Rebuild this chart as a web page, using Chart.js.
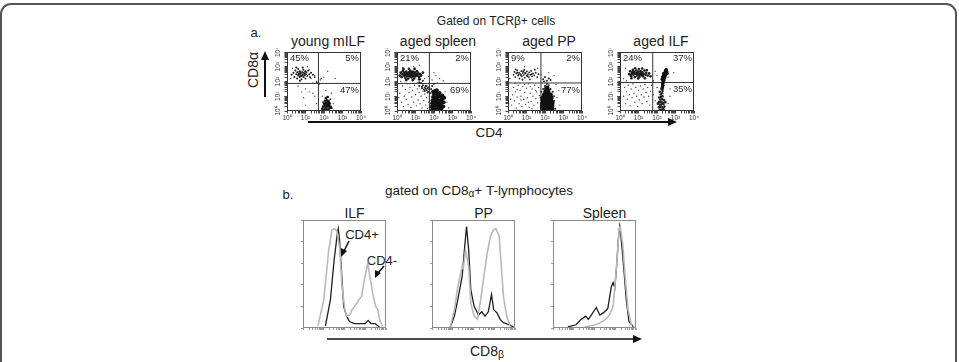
<!DOCTYPE html>
<html><head><meta charset="utf-8">
<script src="https://cdn.jsdelivr.net/npm/chart.js@4/dist/chart.umd.min.js"></script>
<style>
body{margin:0;background:#fff;}
#wrap{position:relative;width:959px;height:362px;overflow:hidden;font-family:"Liberation Sans",Arial,sans-serif;color:#222;}
.t{position:absolute;white-space:nowrap;transform:translate(-50%,-50%);line-height:1;}
canvas{position:absolute;}
svg{position:absolute;left:0;top:0;}
sub{font-size:75%;vertical-align:-0.2em;}
</style></head><body>
<div id="wrap">
<svg width="959" height="362">
  <rect x="1" y="4" width="955" height="420" rx="10" ry="10" fill="none" stroke="#555" stroke-width="2"/>
  <line x1="265" y1="97" x2="265" y2="58" stroke="#111" stroke-width="2"/>
  <polygon points="265,51 261,60 269,60" fill="#111"/>
  <line x1="308" y1="122" x2="669" y2="122" stroke="#111" stroke-width="2"/>
  <polygon points="677,122 668,118 668,126" fill="#111"/>
  <line x1="327" y1="339" x2="634" y2="339" stroke="#111" stroke-width="1.5"/>
  <polygon points="642,339 633,335 633,343" fill="#111"/>
  <line x1="349" y1="241" x2="344" y2="251" stroke="#111" stroke-width="1.5"/>
  <polygon points="341,257 341,248 347,251" fill="#111"/>
  <line x1="384" y1="266" x2="378" y2="273" stroke="#111" stroke-width="1.5"/>
  <polygon points="375,278 375,270 381,273" fill="#111"/>
</svg>
<div class="t" style="left:496px;top:21px;font-size:12px">Gated on TCRβ+ cells</div>
<div class="t" style="left:256px;top:32px;font-size:13px">a.</div>
<div class="t" style="left:253px;top:70px;font-size:14px;transform:translate(-50%,-50%) rotate(-90deg)">CD8α</div>
<div class="t" id="pa0" style="top:41px;font-size:14px"></div>
<div class="t" id="pa1" style="top:41px;font-size:14px"></div>
<div class="t" id="pa2" style="top:41px;font-size:14px"></div>
<div class="t" id="pa3" style="top:41px;font-size:14px"></div>
<div class="t" style="left:489px;top:133px;font-size:13.5px">CD4</div>
<div class="t" style="left:288px;top:194px;font-size:13px">b.</div>
<div class="t" style="left:479px;top:192px;font-size:13.5px">gated on CD8<sub>α</sub>+ T-lymphocytes</div>
<div class="t" id="pb0" style="top:213px;font-size:14px"></div>
<div class="t" id="pb1" style="top:213px;font-size:14px"></div>
<div class="t" id="pb2" style="top:213px;font-size:14px"></div>
<div class="t" style="left:362px;top:234px;font-size:13px">CD4+</div>
<div class="t" style="left:382px;top:260px;font-size:13px">CD4-</div>
<div class="t" style="left:487px;top:352px;font-size:14px">CD8<sub>β</sub></div>
</div>
<script>
// ---------------- DATA ----------------
const scatterTitles = ['young mILF', 'aged spleen', 'aged PP', 'aged ILF'];
const decadeTicks = [0, 1, 2, 3, 4];
const decadeLabels = ['10\u2070', '10\u00b9', '10\u00b2', '10\u00b3', '10\u2074'];
const pctUpperLeft = ['45%', '21%', '9%', '24%'];
const pctUpperRight = ['5%', '2%', '2%', '37%'];
const pctLowerRight = ['47%', '69%', '77%', '35%'];
const gateX = [1.7, 1.75, 1.78, 1.77];
const gateY = [1.87, 1.87, 1.9, 1.93];

// young mILF
const p1Cluster = [[0.25,2.45],[0.35,2.6],[0.4,2.3],[0.45,2.75],[0.5,2.5],[0.55,2.2],[0.55,2.62],[0.6,2.4],[0.6,2.85],[0.65,2.55],[0.68,2.3],[0.7,2.7],[0.72,2.45],[0.75,2.58],[0.78,2.15],[0.8,2.38],[0.82,2.65],[0.85,2.5],[0.88,2.8],[0.9,2.3],[0.92,2.58],[0.95,2.42],[0.98,2.7],[1.0,2.2],[1.02,2.5],[1.05,2.62],[1.1,2.38],[1.15,2.75],[1.2,2.5],[1.25,2.28],[1.3,2.6],[1.4,2.45],[0.5,2.95],[0.7,2.05],[0.85,2.95],[0.62,2.48],[0.74,2.36],[0.84,2.44],[0.66,2.66],[0.96,2.52]];
const p1Blob = [[2.0,0.1],[2.1,0.15],[2.2,0.1],[2.3,0.18],[1.95,0.3],[2.05,0.35],[2.15,0.28],[2.25,0.32],[2.35,0.3],[2.0,0.5],[2.1,0.55],[2.2,0.48],[2.3,0.52],[2.05,0.7],[2.15,0.72],[2.25,0.68],[2.1,0.88],[2.2,0.95],[2.18,0.4],[2.12,0.42],[2.28,0.42],[2.08,0.22],[2.22,0.6],[2.4,0.2],[1.9,0.15]];
const p1Mid = [[1.6,1.95],[1.75,1.85],[1.85,2.2],[1.5,2.3],[1.95,0.6],[2.35,0.8]];
const p1Sparse = [[1.3,2.2],[1.5,2.4],[1.2,2.8],[1.6,2.0],[1.8,2.1],[2.0,2.3],[1.4,1.9],[1.0,1.5],[1.2,1.3],[1.4,1.2],[0.9,0.9],[1.6,0.5],[1.9,1.0],[2.4,1.2],[2.5,0.5],[0.3,2.9],[0.2,2.2],[1.1,3.0],[2.2,2.7],[1.7,1.6],[1.5,1.0],[0.8,1.3],[1.0,0.4],[0.6,1.7],[2.6,2.2],[2.1,1.4]];
// aged spleen
const p2Cluster = [[0.15,2.4],[0.2,2.6],[0.25,2.3],[0.3,2.5],[0.32,2.7],[0.38,2.4],[0.4,2.58],[0.45,2.25],[0.48,2.48],[0.5,2.66],[0.55,2.38],[0.58,2.55],[0.6,2.2],[0.62,2.45],[0.65,2.62],[0.68,2.35],[0.7,2.52],[0.72,2.72],[0.75,2.42],[0.78,2.28],[0.8,2.58],[0.82,2.46],[0.85,2.66],[0.88,2.36],[0.9,2.52],[0.92,2.2],[0.95,2.45],[0.98,2.62],[1.0,2.35],[1.05,2.5],[1.08,2.7],[1.1,2.4],[1.15,2.55],[1.2,2.3],[1.25,2.5],[1.3,2.4],[1.4,2.6],[0.35,2.85],[0.65,2.85],[0.95,2.85],[0.5,2.1],[0.85,2.1],[1.2,2.15],[0.55,2.5],[0.75,2.6],[0.42,2.42]];
const p2Blob = [[1.9,0.1],[2.0,0.08],[2.1,0.12],[2.2,0.1],[2.3,0.1],[2.4,0.15],[1.88,0.3],[1.98,0.32],[2.08,0.28],[2.18,0.3],[2.28,0.32],[2.38,0.35],[2.5,0.3],[1.9,0.52],[2.0,0.5],[2.1,0.55],[2.2,0.5],[2.3,0.52],[2.4,0.55],[2.52,0.6],[1.92,0.72],[2.02,0.75],[2.12,0.7],[2.22,0.74],[2.32,0.72],[2.42,0.8],[1.95,0.95],[2.05,0.92],[2.15,0.95],[2.25,0.98],[2.35,1.0],[2.0,1.15],[2.1,1.18],[2.2,1.15],[2.3,1.22],[2.05,1.35],[2.15,1.4],[1.95,1.3],[2.45,1.05],[2.55,0.9]];
const p2Mid = [[1.3,1.9],[1.4,1.75],[1.5,1.6],[1.55,1.5],[1.45,1.45],[1.6,1.4],[1.35,1.55],[1.65,1.55],[1.7,1.3],[1.75,1.45],[1.2,1.7],[1.5,1.35],[1.8,1.2],[1.6,1.7],[1.4,2.05],[1.25,2.15],[1.2,1.95],[1.35,1.65],[1.55,1.7],[1.7,1.6],[1.85,1.5],[1.65,1.25],[1.9,1.7],[2.0,1.85]];
const p2Sparse = [[0.15,1.2],[0.25,0.6],[0.3,1.7],[0.35,0.3],[0.4,1.0],[0.45,1.45],[0.5,0.8],[0.55,1.85],[0.6,0.45],[0.65,1.25],[0.7,1.6],[0.75,0.25],[0.8,0.95],[0.85,1.4],[0.9,0.6],[0.95,1.75],[1.0,1.1],[1.05,0.35],[1.1,1.5],[1.15,0.75],[1.2,1.25],[1.25,0.5],[1.3,1.0],[1.35,0.2],[1.4,1.35],[1.45,0.7],[1.5,1.15],[1.55,0.4],[1.6,0.9],[1.65,0.15],[1.7,0.6],[1.75,1.0],[0.2,2.0],[0.3,2.95],[0.9,3.0],[1.4,2.6],[1.5,2.2],[1.7,2.35],[1.9,2.1],[2.1,2.4],[2.3,2.2],[2.5,2.05],[2.0,2.6],[2.6,1.3],[2.7,0.6],[2.8,0.2],[1.2,3.1],[2.2,1.9],[0.1,0.9],[1.1,1.9]];
// aged PP
const p3Cluster = [[0.3,2.45],[0.35,2.65],[0.4,2.3],[0.45,2.55],[0.5,2.75],[0.55,2.4],[0.6,2.6],[0.62,2.2],[0.68,2.5],[0.72,2.7],[0.75,2.35],[0.8,2.58],[0.85,2.45],[0.88,2.78],[0.9,2.25],[0.95,2.55],[1.0,2.4],[1.02,2.68],[1.08,2.5],[1.12,2.3],[1.15,2.62],[1.2,2.45],[1.25,2.72],[1.3,2.35],[1.35,2.55],[1.42,2.42],[1.5,2.6],[1.58,2.3],[1.65,2.5],[0.42,2.82],[0.78,2.12],[1.18,2.15],[1.45,2.8],[0.58,2.48],[0.92,2.6],[1.05,2.36],[0.7,2.42],[0.82,2.7],[1.28,2.5],[0.5,2.6]];
const p3Blob = [[1.88,0.08],[1.98,0.1],[2.08,0.08],[2.18,0.1],[2.28,0.1],[2.36,0.15],[1.86,0.3],[1.96,0.28],[2.06,0.3],[2.16,0.28],[2.26,0.3],[2.36,0.35],[1.88,0.5],[1.98,0.52],[2.08,0.5],[2.18,0.52],[2.28,0.5],[2.38,0.55],[1.9,0.72],[2.0,0.7],[2.1,0.72],[2.2,0.7],[2.3,0.74],[1.92,0.92],[2.02,0.95],[2.12,0.92],[2.22,0.95],[2.32,0.9],[1.98,1.12],[2.08,1.15],[2.18,1.12],[2.28,1.1],[2.05,1.32],[2.15,1.35],[2.1,1.55]];
const p3Mid = [[1.78,0.4],[1.76,0.9],[1.8,1.3],[2.45,0.3],[2.5,0.7],[2.48,1.0],[2.42,1.3],[2.3,1.5],[1.9,1.5],[2.0,1.7],[2.2,1.75],[2.1,1.85],[1.95,2.0],[2.1,2.05],[2.2,2.2],[2.0,2.3],[1.9,2.15],[2.3,2.1],[2.55,0.15],[1.82,0.15]];
const p3Sparse = [[0.2,0.4],[0.25,1.1],[0.3,1.6],[0.35,0.7],[0.4,1.3],[0.45,0.2],[0.5,0.95],[0.55,1.75],[0.6,0.5],[0.65,1.4],[0.7,1.0],[0.75,0.3],[0.8,1.65],[0.85,0.8],[0.9,1.25],[0.95,0.45],[1.0,1.55],[1.05,0.9],[1.1,1.85],[1.15,0.25],[1.2,1.2],[1.25,0.65],[1.3,1.5],[1.35,1.0],[1.4,0.4],[1.45,1.75],[1.5,0.85],[1.55,1.3],[1.6,0.55],[1.65,1.6],[1.7,1.05],[0.5,1.45],[0.7,0.75],[0.9,1.8],[1.1,0.6],[1.3,0.15],[1.5,1.4],[0.38,1.9],[0.15,0.8],[1.2,1.65],[2.6,1.8],[2.65,0.9],[2.75,1.4],[2.8,0.4],[2.5,2.4],[1.8,2.45],[0.1,2.2],[1.6,2.9],[0.9,3.0],[2.2,2.6]];
// aged ILF
const p4Cluster = [[0.5,2.5],[0.55,2.7],[0.6,2.35],[0.65,2.58],[0.7,2.8],[0.72,2.45],[0.78,2.65],[0.8,2.3],[0.85,2.52],[0.88,2.75],[0.92,2.4],[0.95,2.6],[1.0,2.48],[1.02,2.85],[1.05,2.3],[1.1,2.56],[1.12,2.7],[1.15,2.42],[1.2,2.62],[1.25,2.35],[1.28,2.52],[1.32,2.75],[1.38,2.45],[1.42,2.6],[1.5,2.4],[1.58,2.55],[1.65,2.35],[0.62,2.22],[0.98,2.2],[1.35,2.22],[0.82,2.9],[1.2,2.88],[0.9,2.58],[1.08,2.44],[0.75,2.55],[1.18,2.5],[0.68,2.68],[1.45,2.78],[1.0,2.68],[0.58,2.45]];
const p4Blob = [[2.28,1.55],[2.3,1.65],[2.32,1.75],[2.3,1.85],[2.34,1.95],[2.32,2.05],[2.38,2.1],[2.35,2.2],[2.42,2.25],[2.38,2.32],[2.45,2.4],[2.4,2.45],[2.48,2.5],[2.42,2.55],[2.5,2.6],[2.45,2.65],[2.52,2.7],[2.46,2.75],[2.5,2.82],[2.35,2.4],[2.36,2.55],[2.55,2.55],[2.3,2.3],[2.28,2.15]];
const p4Mid = [[2.15,0.08],[2.25,0.1],[2.35,0.12],[2.1,0.25],[2.2,0.28],[2.3,0.25],[2.4,0.3],[2.15,0.42],[2.25,0.45],[2.35,0.48],[2.1,0.6],[2.2,0.62],[2.3,0.58],[2.18,0.78],[2.28,0.8],[2.38,0.75],[2.12,0.92],[2.22,0.95],[2.3,1.0],[2.2,1.12],[2.28,1.2],[2.15,1.3],[2.3,1.38],[2.05,0.5],[2.45,0.6],[2.25,1.5]];
const p4Sparse = [[0.2,1.0],[0.25,1.6],[0.3,0.5],[0.35,1.3],[0.4,0.8],[0.45,1.75],[0.5,1.1],[0.55,0.35],[0.6,1.5],[0.65,0.9],[0.7,1.85],[0.75,1.2],[0.8,0.6],[0.85,1.6],[0.9,1.0],[0.95,0.3],[1.0,1.4],[1.05,0.75],[1.1,1.7],[1.15,1.1],[1.2,0.5],[1.25,1.5],[1.3,0.95],[1.35,1.8],[1.4,1.25],[1.45,0.65],[1.5,1.6],[1.55,1.0],[1.6,0.4],[1.65,1.35],[1.7,1.75],[1.8,1.1],[1.9,0.7],[2.0,1.6],[2.6,2.3],[2.7,1.5],[2.0,2.4],[1.9,2.7],[0.3,2.9],[0.2,2.2],[2.6,0.5],[2.9,2.6],[2.7,1.0],[0.35,2.05],[1.8,2.05]];

// Histograms (x: % of axis width, y: % of max)
const histTitles = ['ILF', 'PP', 'Spleen'];
const ilfCD4neg = [[18,2],[25,26],[31,72],[35,91],[38.5,92],[41,89],[44.5,72],[47,38],[50.5,17],[53,11],[56.5,12],[59,17],[62.5,20],[67,26],[70.5,29],[74,45],[78,60],[80.5,48],[84,32],[87.5,20],[90,17],[93,6],[96,1.5]];
const ilfCD4pos = [[27,2],[33,26],[37.5,63],[41,85],[42.5,92],[44,82],[46.5,51],[49,20],[52.5,11],[56,6],[62,4],[69,4],[75,4],[78.5,7],[82,4],[87,4],[92,1]];
const ppCD4neg = [[22,1],[27,17],[31,38],[36.4,57],[37.7,55],[40.3,72],[44.2,57],[46.8,23],[50.8,11],[54.7,8],[58.6,26],[62.5,48],[66.5,69],[70.4,85],[74.3,91],[76.9,92],[80.9,85],[83.5,57],[86.1,29],[90,11],[94,2]];
const ppCD4pos = [[22,1],[27,11],[31,26],[36.4,48],[39,72],[41.6,94],[44.2,72],[46.8,35],[50.8,20],[56,12],[59.9,15],[63.9,11],[67.8,15],[71.7,31],[74.3,17],[78.3,14],[82.2,8],[86.1,5],[92.7,3],[98,1]];
const spleenCD4neg = [[38,1],[46,2],[54,4],[62,7],[68,12],[72.4,20],[74.5,38],[77.7,69],[79.8,92],[81,94],[84,78],[87.2,45],[90.4,17],[94.7,2]];
const spleenCD4pos = [[18,1],[27.7,3],[34,8],[39.4,11],[42.6,8],[47.9,14],[52.1,19],[56.4,12],[60.6,14],[66,18],[70.2,38],[72.4,42],[74.5,37],[76.6,57],[78.7,82],[80.3,94],[81.9,85],[85.1,57],[88.3,26],[91.5,6],[96.8,1]];

// ---------------- LAYOUT ----------------
const scatterBoxes = [{l:287,t:51},{l:397,t:51},{l:508,t:51},{l:620,t:51}];
const SW = 74, SH = 60;
const histBoxes = [{l:303,t:220},{l:432,t:220},{l:553,t:220}];
const HW = 83, HH = 108;
const wrap = document.getElementById('wrap');

function logTickValues(max) {
  const t = [];
  for (let d = 0; d < 4; d++) for (let k = 1; k < 10; k++) t.push({value: (d + Math.log10(k)) * max / 4});
  t.push({value: max});
  return t;
}
const pts = a => a.map(p => ({x: p[0], y: p[1]}));

const scatterDecor = {
  id: 'scatterDecor',
  afterDatasetsDraw(chart, args, o) {
    const {ctx, chartArea: a, scales: {x, y}} = chart;
    ctx.save();
    ctx.strokeStyle = '#333'; ctx.lineWidth = 1;
    ctx.strokeRect(a.left + 0.5, a.top + 0.5, a.right - a.left - 1, a.bottom - a.top - 1);
    ctx.fillStyle = '#333';
    ctx.font = '6.5px "Liberation Sans", Arial';
    ctx.textAlign = 'center'; ctx.textBaseline = 'middle';
    decadeTicks.forEach((v, i) => {
      ctx.fillText(decadeLabels[i], x.getPixelForValue(v), a.bottom + 7);
      ctx.save();
      ctx.translate(a.left - 9, y.getPixelForValue(v));
      ctx.rotate(-Math.PI / 2);
      ctx.fillText(decadeLabels[i], 0, 0);
      ctx.restore();
    });
    ctx.font = '9.5px "Liberation Sans", Arial';
    ctx.fillStyle = '#2a2a2a';
    ctx.textBaseline = 'middle';
    ctx.textAlign = 'left';
    ctx.fillText(o.ul, a.left + 3, a.top + 6);
    ctx.textAlign = 'right';
    ctx.fillText(o.ur, a.right - 2, a.top + 6);
    ctx.fillText(o.lr, a.right - 2, y.getPixelForValue(o.gy) + 7);
    ctx.restore();
  }
};

scatterBoxes.forEach((b, i) => {
  const c = document.createElement('canvas');
  const padL = 18, padT = 3, padR = 8, padB = 13;
  c.width = SW + padL + padR; c.height = SH + padT + padB;
  c.style.left = (b.l - padL) + 'px'; c.style.top = (b.t - padT) + 'px';
  wrap.appendChild(c);
  const tl = document.getElementById('pa' + i);
  tl.textContent = scatterTitles[i];
  tl.style.left = (b.l + SW / 2 + 4) + 'px';
  const sets = [[p1Cluster,p1Blob,p1Mid,p1Sparse],[p2Cluster,p2Blob,p2Mid,p2Sparse],[p3Cluster,p3Blob,p3Mid,p3Sparse],[p4Cluster,p4Blob,p4Mid,p4Sparse]][i];
  const clusterR = [1.0, 1.4, 0.9, 1.3][i];
  const blobR = [1.3, 2.0, 2.6, 1.7][i];
  const midR = [0.9, 1.0, 1.0, 1.3][i];
  new Chart(c, {
    type: 'scatter',
    data: {datasets: [
      {data: pts(sets[3]), pointRadius: 0.7, backgroundColor: '#444', borderWidth: 0},
      {data: pts(sets[2]), pointRadius: midR, backgroundColor: '#222', borderWidth: 0},
      {data: pts(sets[0]), pointRadius: clusterR, backgroundColor: '#1a1a1a', borderWidth: 0},
      {data: pts(sets[1]), pointRadius: blobR, backgroundColor: '#111', borderWidth: 0},
      {type: 'line', data: [{x: gateX[i], y: 0}, {x: gateX[i], y: 4}], borderColor: '#333', borderWidth: 1, pointRadius: 0},
      {type: 'line', data: [{x: 0, y: gateY[i]}, {x: 4, y: gateY[i]}], borderColor: '#333', borderWidth: 1, pointRadius: 0}
    ]},
    options: {
      responsive: false, animation: false, events: [],
      layout: {padding: {left: 0, top: padT, right: padR, bottom: 0}},
      plugins: {legend: {display: false}, tooltip: {enabled: false},
        scatterDecor: {ul: pctUpperLeft[i], ur: pctUpperRight[i], lr: pctLowerRight[i], gy: gateY[i]}},
      scales: {
        x: {type: 'linear', min: 0, max: 4, afterBuildTicks: s => { s.ticks = logTickValues(4); }, afterFit: s => { s.height = padB; },
            ticks: {display: false}, grid: {drawOnChartArea: false, tickLength: 2.5, color: '#444'}, border: {display: false}},
        y: {type: 'linear', min: 0, max: 4, afterBuildTicks: s => { s.ticks = logTickValues(4); }, afterFit: s => { s.width = padL; },
            ticks: {display: false}, grid: {drawOnChartArea: false, tickLength: 2.5, color: '#444'}, border: {display: false}}
      }
    },
    plugins: [scatterDecor]
  });
});

const histDecor = {
  id: 'histDecor',
  afterDatasetsDraw(chart) {
    const {ctx, chartArea: a} = chart;
    ctx.save();
    ctx.strokeStyle = '#8a8a8a'; ctx.lineWidth = 1;
    ctx.strokeRect(a.left + 0.5, a.top + 0.5, a.right - a.left - 1, a.bottom - a.top - 1);
    ctx.restore();
  }
};
const histSets = [[ilfCD4neg, ilfCD4pos], [ppCD4neg, ppCD4pos], [spleenCD4neg, spleenCD4pos]];
histBoxes.forEach((b, i) => {
  const c = document.createElement('canvas');
  const padL = 5, padT = 2, padR = 3, padB = 5;
  c.width = HW + padL + padR; c.height = HH + padT + padB;
  c.style.left = (b.l - padL) + 'px'; c.style.top = (b.t - padT) + 'px';
  wrap.appendChild(c);
  const tl = document.getElementById('pb' + i);
  tl.textContent = histTitles[i];
  tl.style.left = (b.l + HW / 2 + 10) + 'px';
  new Chart(c, {
    type: 'scatter',
    data: {datasets: [
      {data: pts(histSets[i][0]), showLine: true, borderColor: '#b9b9b9', borderWidth: 1.6, pointRadius: 0, tension: 0},
      {data: pts(histSets[i][1]), showLine: true, borderColor: '#1e1e1e', borderWidth: 1.3, pointRadius: 0, tension: 0}
    ]},
    options: {
      responsive: false, animation: false, events: [],
      layout: {padding: {left: 0, top: padT, right: padR, bottom: 0}},
      plugins: {legend: {display: false}, tooltip: {enabled: false}},
      scales: {
        x: {type: 'linear', min: 0, max: 100, afterBuildTicks: s => { s.ticks = logTickValues(100); }, afterFit: s => { s.height = padB; },
            ticks: {display: false}, grid: {drawOnChartArea: false, tickLength: 2, color: '#999'}, border: {display: false}},
        y: {type: 'linear', min: 0, max: 100, afterBuildTicks: s => { s.ticks = [0,20,40,60,80,100].map(v => ({value: v})); }, afterFit: s => { s.width = padL; },
            ticks: {display: false}, grid: {drawOnChartArea: false, tickLength: 2, color: '#999'}, border: {display: false}}
      }
    },
    plugins: [histDecor]
  });
});
</script>
</body></html>
